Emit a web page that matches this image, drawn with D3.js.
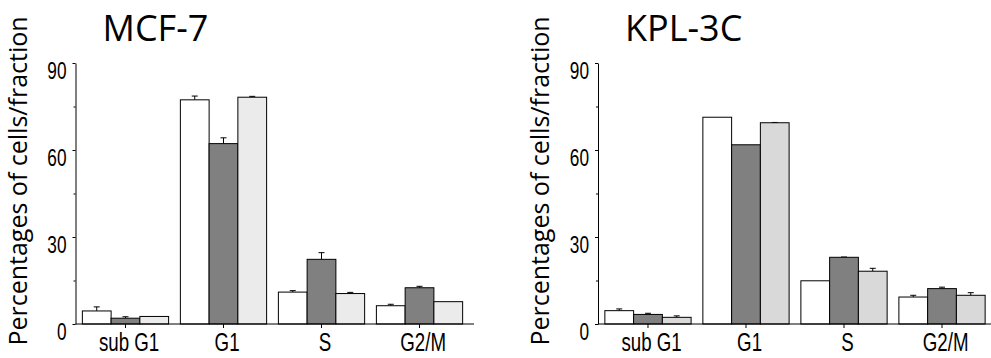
<!DOCTYPE html>
<html lang="en">
<head>
  <meta charset="UTF-8">
  <title>Cell cycle fractions</title>
  <script src="https://d3js.org/d3.v7.min.js"></script>
  <style>
    body { margin: 0; background: #fff; }
    .title { font-family: "Open Sans", sans-serif; font-size: 36px; }
    .ylabel { font-family: "Open Sans", sans-serif; font-size: 25px; }
    .tick text { font-family: "Liberation Sans", Arial, sans-serif; fill: #000; }
  </style>
</head>
<body>
  <svg width="991" height="358"></svg>

  <script>
    // phases on the x axis
    const phases = ["sub G1", "G1", "S", "G2/M"];
    const conditions = ["cond1", "cond2", "cond3"];
    const yTicks = [0, 30, 60, 90];
    const yMinorTicks = [15, 45, 75];

    // MCF-7 means and error bars (one array per condition)
    const mcf7Cond1 = [4.5, 77.3, 11.0, 6.3];
    const mcf7Cond2 = [2.0, 62.2, 22.3, 12.5];
    const mcf7Cond3 = [2.6, 78.2, 10.5, 7.7];
    const mcf7Cond1Err = [1.4, 1.3, 0.5, 0.5];
    const mcf7Cond2Err = [0.5, 2.0, 2.3, 0.5];
    const mcf7Cond3Err = [0, 0.3, 0.4, 0];

    // KPL-3C means and error bars
    const kplCond1 = [4.6, 71.3, 14.9, 9.3];
    const kplCond2 = [3.3, 61.8, 23.0, 12.2];
    const kplCond3 = [2.3, 69.4, 18.2, 9.9];
    const kplCond1Err = [0.6, 0, 0, 0.6];
    const kplCond2Err = [0.4, 0, 0.1, 0.5];
    const kplCond3Err = [0.5, 0.1, 1.0, 0.9];

    const svg = d3.select("svg");

    const panels = [
      { title: "MCF-7", left: 75.5, light: "#ebebeb",
        means: [mcf7Cond1, mcf7Cond2, mcf7Cond3],
        errs: [mcf7Cond1Err, mcf7Cond2Err, mcf7Cond3Err] },
      { title: "KPL-3C", left: 598, light: "#d9d9d9",
        means: [kplCond1, kplCond2, kplCond3],
        errs: [kplCond1Err, kplCond2Err, kplCond3Err] }
    ];

    const y = d3.scaleLinear().domain([0, 90]).range([324, 63]);

    const x = d3.scaleBand()
      .domain(phases)
      .range([0, 394])
      .paddingInner(0.12)
      .paddingOuter(0.07);

    const xInner = d3.scaleBand()
      .domain(conditions)
      .range([0, x.bandwidth()]);

    panels.forEach(function(p) {
      const g = svg.append("g").attr("transform", `translate(${p.left},0)`);
      const fills = ["#ffffff", "#808080", p.light];

      // title
      g.append("text")
        .attr("class", "title")
        .attr("x", 27)
        .attr("y", 41)
        .text(p.title);

      // y axis label
      g.append("text")
        .attr("class", "ylabel")
        .attr("text-anchor", "middle")
        .attr("transform", "translate(-49,181) rotate(-90)")
        .text("Percentages of cells/fraction");

      const rows = [];
      conditions.forEach(function(c, i) {
        phases.forEach(function(ph, j) {
          rows.push({ phase: ph, cond: c, idx: i, value: p.means[i][j], err: p.errs[i][j] });
        });
      });
      const cx = d => x(d.phase) + xInner(d.cond) + xInner.bandwidth() / 2;

      // error bars
      const eb = g.selectAll(".err")
        .data(rows.filter(d => d.err > 0))
        .enter().append("g")
        .attr("class", "err")
        .attr("stroke", "#000")
        .attr("stroke-width", 1);
      eb.append("line")
        .attr("x1", cx)
        .attr("x2", cx)
        .attr("y1", d => y(d.value))
        .attr("y2", d => y(d.value + d.err));
      eb.append("line")
        .attr("x1", d => cx(d) - 3)
        .attr("x2", d => cx(d) + 3)
        .attr("y1", d => y(d.value + d.err))
        .attr("y2", d => y(d.value + d.err));

      // bars
      g.selectAll(".bar")
        .data(rows)
        .enter().append("rect")
        .attr("class", "bar")
        .attr("x", d => x(d.phase) + xInner(d.cond))
        .attr("y", d => y(d.value))
        .attr("width", xInner.bandwidth())
        .attr("height", d => y(0) - y(d.value))
        .attr("fill", d => fills[d.idx])
        .attr("stroke", "#000")
        .attr("stroke-width", 1);

      // y axis (narrow, tall digits)
      const yAxis = g.append("g")
        .call(d3.axisLeft(y).tickValues(yTicks).tickSize(3).tickPadding(9).tickSizeOuter(0));
      yAxis.selectAll(".tick text")
        .attr("dy", "0.66em")
        .attr("transform", "scale(0.75,1)")
        .style("font-size", "23px");
      g.append("g")
        .call(d3.axisLeft(y).tickValues(yMinorTicks).tickSize(2).tickFormat(""))
        .select(".domain").remove();

      // x axis
      const xAxis = g.append("g")
        .attr("transform", `translate(0,${y(0)})`)
        .call(d3.axisBottom(x).tickSize(4).tickPadding(5));
      xAxis.select(".domain").remove();
      xAxis.selectAll(".tick text")
        .attr("dx", 5)
        .attr("transform", "scale(0.72,1)")
        .style("font-size", "26px");
      xAxis.append("line")
        .attr("x1", 0)
        .attr("x2", 398.5)
        .attr("stroke", "#000");
    });
  </script>
</body>
</html>
